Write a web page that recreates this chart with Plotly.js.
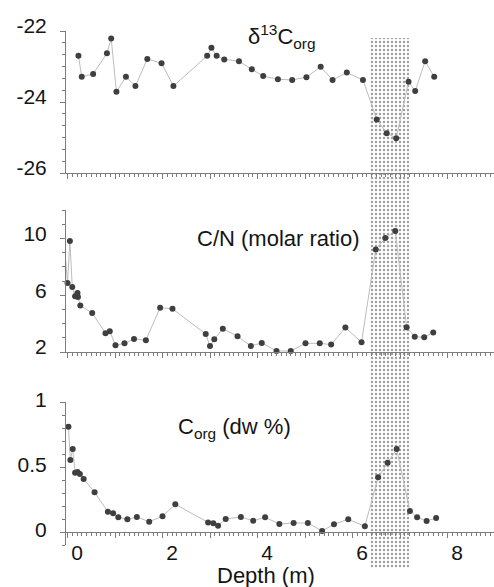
<!DOCTYPE html>
<html>
<head>
<meta charset="utf-8">
<script src="https://cdn.plot.ly/plotly-3.0.1.min.js"></script>
<style>
  html, body { margin: 0; padding: 0; background: #fff; }
  #chart { width: 494px; height: 587px; }
</style>
</head>
<body>
<div id="chart"></div>
<script>
// ---------------- data ----------------
const depthD13C = [0.03,0.10,0.34,0.63,0.72,0.83,1.03,1.23,1.48,1.78,2.03,2.74,2.83,2.94,3.10,3.41,3.68,3.92,4.23,4.53,4.83,5.13,5.38,5.68,6.02,6.31,6.52,6.72,6.98,7.12,7.33,7.52];
const d13C = [-22.70,-23.29,-23.21,-22.63,-22.21,-23.71,-23.29,-23.55,-22.79,-22.91,-23.55,-22.70,-22.47,-22.70,-22.80,-22.85,-23.08,-23.27,-23.36,-23.38,-23.30,-23.01,-23.38,-23.17,-23.38,-24.49,-24.88,-25.02,-23.43,-23.69,-22.85,-23.29];

const depthCN = [-0.24,-0.20,-0.15,-0.10,-0.04,0.01,0.02,0.07,0.32,0.60,0.69,0.81,1.00,1.20,1.45,1.75,2.01,2.71,2.80,2.89,3.07,3.38,3.66,3.89,4.20,4.50,4.81,5.11,5.35,5.65,5.99,6.29,6.49,6.70,6.94,7.11,7.31,7.50];
const cnRatio = [8.51,6.86,9.81,6.58,5.92,6.16,5.87,5.28,4.74,3.32,3.46,2.47,2.61,2.92,2.83,5.12,5.04,3.27,2.42,2.90,3.63,3.11,2.42,2.64,2.07,2.07,2.61,2.61,2.52,3.72,2.69,9.22,10.02,10.52,3.75,3.08,3.04,3.37];

const depthCorg = [-0.18,-0.14,-0.09,-0.04,0.01,0.06,0.14,0.37,0.65,0.76,0.87,1.06,1.26,1.52,1.80,2.07,2.76,2.87,2.97,3.13,3.45,3.71,3.96,4.26,4.56,4.86,5.16,5.41,5.71,6.06,6.34,6.54,6.73,7.01,7.16,7.36,7.56];
const corg = [0.81,0.554,0.638,0.456,0.462,0.446,0.408,0.305,0.156,0.144,0.113,0.098,0.115,0.079,0.121,0.213,0.074,0.067,0.049,0.100,0.115,0.087,0.113,0.062,0.069,0.069,0.008,0.059,0.098,0.044,0.421,0.533,0.638,0.162,0.113,0.085,0.108];

const bandDepth = [6.17, 6.99];           // shaded interval (m)
const depthTicks = [0, 2, 4, 6, 8];
const depthTickText = ['0', '2', '4', '6', '8'];
const d13CTicks = [-26, -24, -22];
const d13CTickText = ['-26', '-24', '-22'];
const cnTicks = [2, 6, 10];
const cnTickText = ['2', '6', '10'];
const corgTicks = [0, 0.5, 1];
const corgTickText = ['0', '0.5', '1'];

// ---------------- layout helpers ----------------
const W = 494, H = 587;
const fx = p => p / W;
const fy = p => 1 - p / H;
const xRange = [-0.2316, 8.779];
const xDomain = [fx(66), 1];

const FONT = 'Arial, "Liberation Sans", sans-serif';
const TXT = '#141414';
const AX = '#7d7d7d';
const MK = '#3f3f3f';
const LN = '#bdbdbd';

function seriesTrace(x, y, xa, ya) {
  return {
    type: 'scatter', mode: 'lines+markers', x: x, y: y, xaxis: xa, yaxis: ya,
    line: { color: LN, width: 1 },
    marker: { color: MK, size: 6 },
    cliponaxis: false, hoverinfo: 'skip', showlegend: false
  };
}

const traces = [
  // shaded interval, drawn in the lowest subplot layer
  {
    type: 'bar', xaxis: 'x', yaxis: 'y',
    x: [(bandDepth[0] + bandDepth[1]) / 2],
    y: [(568 - 38) / H],
    base: [fy(568)],
    width: [bandDepth[1] - bandDepth[0]],
    marker: {
      color: '#ffffff',
      line: { width: 0 },
      pattern: { shape: '.', fgcolor: '#404040', bgcolor: '#ffffff', size: 4, solidity: 0.3, fillmode: 'overlay' }
    },
    hoverinfo: 'skip', showlegend: false
  },
  seriesTrace(depthD13C, d13C, 'x2', 'y2'),
  seriesTrace(depthCN, cnRatio, 'x3', 'y3'),
  seriesTrace(depthCorg, corg, 'x4', 'y4'),
  { type: 'scatter', x: [], y: [], xaxis: 'x5', yaxis: 'y4', showlegend: false, hoverinfo: 'skip' }
];

function xTicksAxis(anchor, extra) {
  return Object.assign({
    domain: xDomain, range: xRange, anchor: anchor,
    showline: true, linecolor: AX, linewidth: 1,
    showgrid: false, zeroline: false,
    tickmode: 'linear', tick0: -0.2, dtick: 1,
    ticks: 'outside', ticklen: 5, tickcolor: AX, tickwidth: 1,
    minor: { tickmode: 'linear', tick0: -0.2, dtick: 0.1, ticks: 'outside', ticklen: 3, tickcolor: AX, tickwidth: 1, showgrid: false },
    showticklabels: false, fixedrange: true
  }, extra || {});
}

function yAxis(domain, range, tickvals, ticktext, minorDtick, minorTick0, shift, anchor) {
  return {
    domain: domain, range: range, anchor: anchor,
    showline: true, linecolor: AX, linewidth: 1,
    showgrid: false, zeroline: false,
    tickmode: 'array', tickvals: tickvals, ticktext: ticktext,
    ticks: 'outside', ticklen: 5, tickcolor: AX, tickwidth: 1,
    minor: { tickmode: 'linear', tick0: minorTick0, dtick: minorDtick, ticks: 'outside', ticklen: 3, tickcolor: AX, tickwidth: 1, showgrid: false },
    tickfont: { family: FONT, size: 21, color: TXT },
    ticklabelstandoff: 9, ticklabelshift: shift,
    fixedrange: true
  };
}

const layout = {
  width: W, height: H,
  margin: { l: 0, r: 0, t: 0, b: 0, pad: 0 },
  paper_bgcolor: '#ffffff',
  plot_bgcolor: 'rgba(0,0,0,0)',
  showlegend: false,
  bargap: 0,
  font: { family: FONT, color: TXT },
  // band subplot (hidden axes)
  xaxis: { domain: xDomain, range: xRange, visible: false, fixedrange: true, anchor: 'y' },
  yaxis: { domain: [0, 1], range: [0, 1], visible: false, fixedrange: true, anchor: 'x' },
  // top panel
  xaxis2: xTicksAxis('y2'),
  yaxis2: yAxis([fy(173), fy(31)], [-26, -22], d13CTicks, d13CTickText, 1 / 3, -26, -5, 'x2'),
  // middle panel
  xaxis3: xTicksAxis('y3'),
  yaxis3: yAxis([fy(352), fy(210)], [2, 12], cnTicks, cnTickText, 1, 2, -5, 'x3'),
  // bottom panel
  xaxis4: xTicksAxis('free', { position: fy(532) }),
  yaxis4: yAxis([fy(545), fy(402)], [-0.1, 1], corgTicks, corgTickText, 0.1, 0, -2, 'x4'),
  xaxis5: {
    overlaying: 'x4', anchor: 'free', position: fy(532),
    domain: xDomain, range: xRange,
    showline: false, showgrid: false, zeroline: false,
    tickmode: 'array', tickvals: depthTicks, ticktext: depthTickText,
    ticks: '', ticklabelstandoff: 6,
    tickfont: { family: FONT, size: 21, color: TXT },
    fixedrange: true
  },
  annotations: [
    { xref: 'paper', yref: 'paper', x: fx(282), y: fy(37), xanchor: 'center', yanchor: 'middle', showarrow: false,
      text: 'δ<sup>13</sup>C<sub>org</sub>', font: { family: FONT, size: 22, color: TXT } },
    { xref: 'paper', yref: 'paper', x: fx(278), y: fy(238), xanchor: 'center', yanchor: 'middle', showarrow: false,
      text: 'C/N (molar ratio)', font: { family: FONT, size: 22, color: TXT } },
    { xref: 'paper', yref: 'paper', x: fx(234), y: fy(428), xanchor: 'center', yanchor: 'middle', showarrow: false,
      text: 'C<sub>org</sub> (dw %)', font: { family: FONT, size: 22, color: TXT } },
    { xref: 'paper', yref: 'paper', x: fx(266), y: fy(575), xanchor: 'center', yanchor: 'middle', showarrow: false,
      text: 'Depth (m)', font: { family: FONT, size: 22, color: TXT } }
  ]
};

Plotly.newPlot('chart', traces, layout, { staticPlot: true, displayModeBar: false });
</script>
</body>
</html>
